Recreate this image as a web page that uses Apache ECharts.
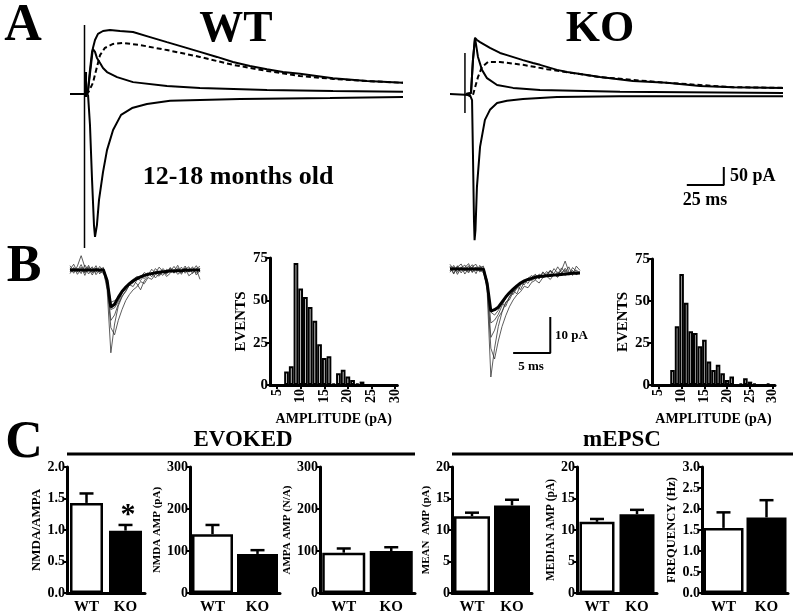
<!DOCTYPE html>
<html><head><meta charset="utf-8">
<script src="https://cdn.jsdelivr.net/npm/echarts@6/dist/echarts.min.js"></script>
<style>html,body{margin:0;padding:0;background:#fff}#c{width:800px;height:616px}</style>
</head><body><div id="c"></div>
<script>
const FONT = '"Liberation Serif","Times New Roman",serif';

// ---------- Panel A traces (time ms, current pA) ----------
const wtInward = [[0,0],[10.8,0],[12.2,-3],[13.5,-86],[14.9,-239],[16.2,-364],[16.9,-397],[17.6,-394],[18.2,-364],[19.6,-294],[22.3,-217],[25,-156],[29.1,-100],[34.5,-58],[41.9,-39],[52,-28],[67.6,-19],[114.9,-14],[175.7,-11],[225,-8]];
const wtOutward = [[10.8,0],[12.2,11],[14.2,81],[15.5,128],[16.9,150],[18.9,167],[22.3,175],[27,178],[33.8,175],[42.6,172],[54.1,158],[65.5,144],[76.4,131],[87.8,117],[99.3,103],[110.1,89],[121.6,78],[133.1,69],[143.9,61],[155.4,56],[177.7,44],[200.7,36],[225,31]];
const wtAmpaOut = [[10.8,0],[12.2,11],[13.5,67],[14.9,117],[15.5,125],[16.9,117],[18.2,100],[20.3,86],[22.3,72],[25,61],[31.8,47],[42.6,33],[65.5,22],[87.8,17],[133.1,11],[177.7,8],[225,6]];
const wtNmda = [[10.8,0],[12.2,3],[15.5,31],[18.2,75],[20.3,108],[23.6,128],[29.1,139],[35.8,142],[47.3,136],[65.5,122],[87.8,103],[110.1,81],[133.1,64],[155.4,50],[177.7,42],[200.7,36],[225,31]];
const wtArtifact = [[9.8,192],[9.8,-428]];
const wtArtifactThick = [[10.5,61],[10.5,-8]];

const koInward = [[0,0],[13.5,-3],[14.9,-17],[15.5,-164],[16.2,-350],[16.6,-406],[17.2,-378],[18.2,-258],[20.3,-147],[23.6,-72],[27,-44],[31.8,-25],[38.5,-19],[49.3,-14],[72.3,-8],[114.9,-6],[168.9,-6],[225,-6]];
const koOutward = [[10.8,0],[14.2,3],[15.5,94],[16.9,156],[18.2,150],[20.3,144],[27,128],[33.8,114],[38.5,108],[49.3,94],[56.1,86],[60.8,81],[72.3,67],[79.1,61],[101.4,47],[123.6,36],[146.6,31],[168.9,22],[191.2,19],[225,17]];
const koAmpaOut = [[10.8,0],[14.2,3],[15.5,94],[16.9,156],[18.9,103],[21.6,67],[25,44],[31.8,25],[42.6,17],[60.8,11],[114.9,6],[225,3]];
const koNmda = [[10.8,0],[13.5,-6],[15.5,-3],[18.9,47],[21.6,75],[25.7,89],[33.8,89],[49.3,81],[65.5,69],[83.1,58],[101.4,47],[146.6,31],[191.2,19],[225,17]];
const koArtifact = [[10.1,114],[10.1,-53]];
const scaleBarA = [[160,-253],[185,-253],[185,-203]];   // 25 ms, 50 pA

// ---------- Panel B mEPSC traces (ms, pA) ----------
const tB = [0,0.5,1,1.5,2,2.5,3,3.5,4,4.5,5,5.5,6,6.5,7,7.5,8,8.5,9,9.5,10,10.5,11,11.5,12,12.5,13,13.5,14,14.5,15,15.5,16,16.5,17,17.5];
const wtMini1 = [0.6,-0.9,1.1,4.0,0.8,-1.1,0.3,-0.7,1.0,-0.2,-5.5,-23,-15,-10,-7.5,-5.8,-4.2,-3.6,-2.4,-2.9,-1.5,-0.8,-1.9,-0.3,-1.4,0.4,-0.6,0.7,-0.9,0.3,-1.2,0.6,-0.3,0.9,-1.4,-0.1];
const wtMini2 = [-0.5,0.7,-1.2,0.2,-0.6,1.3,-0.8,0.5,-0.4,0.3,-4,-16,-18,-14,-11,-8.5,-6.8,-5.5,-4.7,-3.2,-3.8,-2.1,-2.6,-1.2,-1.7,-0.5,-1.0,0.3,-0.8,0.6,-0.4,1.1,-0.6,0.2,-0.9,0.5];
const wtMini3 = [1.2,-0.3,0.4,-1.0,1.4,-0.2,0.9,-1.3,0.1,0.7,-3.5,-14,-12.5,-9.5,-7.2,-6.0,-4.1,-4.6,-2.8,-1.6,-2.4,-0.9,-1.3,0.4,-0.7,-1.5,0.2,-0.4,1.0,-0.5,0.8,-0.9,0.4,-0.2,1.2,-0.6];
const wtMini4 = [-1.0,0.5,-0.2,1.5,-0.8,0.4,-1.4,0.6,-0.5,-0.9,-3,-11,-10.5,-8.8,-6.4,-5.2,-3.5,-2.9,-3.8,-5.5,-3.0,-1.7,-0.6,-2.2,-1.1,-0.3,-1.8,-0.9,0.2,-1.2,-0.4,0.5,-1.6,-0.8,0.3,-2.6];
const wtMini5 = [0.2,1.6,-0.6,0.8,-1.5,0.9,-0.4,1.2,-1.1,0.5,-2.5,-9,-8.5,-7.9,-5.9,-4.4,-3.9,-2.6,-1.8,-2.0,-0.7,-1.4,0.2,-0.9,0.8,-0.4,-1.2,0.5,-0.3,1.3,-0.8,0.1,0.9,-1.0,0.4,1.0];
const wtMiniAvg = [0,0,0,0,0,0,0,0,0,0,-3,-10.3,-9.5,-7.6,-6.0,-4.8,-3.8,-3.0,-2.4,-1.9,-1.5,-1.2,-1.0,-0.8,-0.6,-0.5,-0.4,-0.3,-0.3,-0.2,-0.2,-0.1,-0.1,0,0,0];

const koMini1 = [0.8,-1.2,0.5,1.4,-0.6,0.9,-1.0,0.3,-0.8,0.2,-6,-30,-22,-16,-12,-9.5,-7.8,-6.2,-5.5,-4.1,-3.6,-2.8,-3.3,-2.2,-1.7,-2.5,-1.3,-0.6,-1.9,-0.8,-1.4,0.2,-1.1,-0.5,-1.6,-0.7];
const koMini2 = [-0.9,0.6,-1.5,0.3,1.1,-0.7,0.5,-1.3,1.0,-0.4,-5,-22,-25,-20,-16,-13,-10.5,-8.6,-7.2,-6.3,-4.8,-5.2,-3.7,-3.1,-3.9,-2.4,-2.0,-2.9,-1.5,-2.3,-0.9,-1.8,-1.2,-0.4,-1.5,-1.0];
const koMini3 = [1.3,-0.2,0.7,-1.1,0.4,1.5,-0.8,0.6,-0.3,-1.0,-4.5,-19,-17,-13.5,-11.8,-9.2,-8.6,-6.4,-4.9,-5.7,-3.6,-2.5,-3.0,-1.6,-2.6,-0.8,-1.9,-0.5,-1.3,0.6,-1.0,-0.2,-1.7,0.4,-0.6,-1.3];
const koMini4 = [-0.4,1.0,-0.9,0.6,-1.4,0.2,1.2,-0.5,0.4,0.8,-3.5,-15,-14.2,-12.6,-10.2,-8.1,-6.5,-7.1,-5.2,-3.9,-4.4,-2.6,-1.8,-3.0,-1.4,-2.1,-0.7,-1.6,0.1,-1.2,-0.4,2.2,-0.8,-1.5,-0.3,-1.1];
const koMini5 = [0.5,-1.4,0.9,-0.3,0.2,-1.1,0.7,1.3,-0.6,-0.2,-3,-12,-12.8,-11.5,-9.6,-10.4,-7.8,-6.0,-6.9,-4.5,-3.2,-4.0,-2.2,-1.5,-2.8,-1.0,-1.9,-0.3,-1.4,-2.2,0.3,-0.9,0.6,-1.8,0.8,-0.4];
const koMiniAvg = [0,0,0,0,0,0,0,0,0,0,-4,-11.7,-11.3,-10.6,-9.2,-7.8,-6.6,-5.6,-4.7,-3.9,-3.3,-2.9,-2.6,-2.3,-2.1,-2.0,-1.9,-1.8,-1.7,-1.6,-1.5,-1.4,-1.3,-1.2,-1.15,-1.1];
const scaleBarB = [[8.5,-23.3],[13.5,-23.3],[13.5,-13.3]];  // 5 ms, 10 pA

// ---------- Panel B histograms ----------
const histBins = ['4','5','6','7','8','9','10','11','12','13','14','15','16','17','18','19','20','21','22','23','24','25','26','27','28','29','30'];
const wtEvents = [0,0,0,8,11,72,57,52,46,38,24,16,17,1,7,9,5,3,1,2,0,0,0,0,0,0,0];
const koEvents = [0,0,0,0,9,35,66,49,32,31,23,27,14,9,12,7,3,5,0,1,4,2,1,0,0,1,0];

// ---------- Panel C bar charts ----------
const groups = ['WT','KO'];
const ratioMean = [1.43, 0.99],  ratioSem = [0.15, 0.09];
const nmdaMean  = [140, 93],     nmdaSem  = [22, 9];
const ampaMean  = [96, 100],     ampaSem  = [10, 9];
const meanAmp   = [12.2, 13.9],  meanAmpSem = [0.55, 0.9];
const medianAmp = [11.3, 12.5],  medianAmpSem = [0.45, 0.7];
const freqMean  = [1.55, 1.80],  freqSem  = [0.37, 0.41];

// ================= build =================
const chart = echarts.init(document.getElementById('c'));
const grid = [], xAxis = [], yAxis = [], series = [];
const bold = {fontFamily: FONT, fontWeight: 'bold', color: '#000'};

function traceGrid(box, xr, yr){
  grid.push(box);
  const i = grid.length - 1;
  xAxis.push({gridIndex:i, type:'value', min:xr[0], max:xr[1], show:false});
  yAxis.push({gridIndex:i, type:'value', min:yr[0], max:yr[1], show:false});
  return i;
}
function line(i, data, opt){
  series.push(Object.assign({type:'line', xAxisIndex:i, yAxisIndex:i, data:data, symbol:'none', silent:true,
    lineStyle:{color:'#000', width:2}}, opt||{}));
}
function zipT(vals){ return tB.map((t,k)=>[t, vals[k]]); }

// A
const gA1 = traceGrid({left:70, top:22, width:333, height:230.4}, [0,225], [-440,200]);
const gA2 = traceGrid({left:450, top:22, width:333, height:230.4}, [0,225], [-440,200]);
line(gA1, wtInward); line(gA1, wtOutward); line(gA1, wtAmpaOut);
line(gA1, wtNmda, {lineStyle:{color:'#000', width:2, type:[5,3]}});
line(gA1, wtArtifact, {lineStyle:{color:'#000', width:1.5}});
line(gA1, wtArtifactThick, {lineStyle:{color:'#000', width:3}});
line(gA2, koInward); line(gA2, koOutward); line(gA2, koAmpaOut);
line(gA2, koNmda, {lineStyle:{color:'#000', width:2, type:[5,3]}});
line(gA2, koArtifact, {lineStyle:{color:'#000', width:1.5}});
line(gA2, scaleBarA, {lineStyle:{color:'#000', width:2}});

// B traces
const gB1 = traceGrid({left:70, top:255.6, width:130, height:104.4}, [0,17.5], [-25,4]);
const gB2 = traceGrid({left:450, top:254.6, width:130, height:129.6}, [0,17.5], [-32,4]);
[wtMini1, wtMini2, wtMini3, wtMini4, wtMini5].forEach(v => line(gB1, zipT(v), {lineStyle:{color:'#333', width:0.8}}));
line(gB1, zipT(wtMiniAvg), {lineStyle:{color:'#000', width:3}});
[koMini1, koMini2, koMini3, koMini4, koMini5].forEach(v => line(gB2, zipT(v), {lineStyle:{color:'#333', width:0.8}}));
line(gB2, zipT(koMiniAvg), {lineStyle:{color:'#000', width:3}});
line(gB2, scaleBarB, {lineStyle:{color:'#000', width:2}});

// Histograms
function histogram(box, counts, eventsGap){
  grid.push(box);
  const i = grid.length - 1;
  const every5 = (idx, val) => Number(val) % 5 === 0;
  xAxis.push({gridIndex:i, type:'category', data:histBins,
    axisLine:{lineStyle:{color:'#000', width:3}},
    axisTick:{show:true, interval:every5, alignWithLabel:true, length:4, lineStyle:{color:'#000', width:2}},
    axisLabel:Object.assign({interval:every5, rotate:90, fontSize:14, margin:4}, bold),
    name:'AMPLITUDE (pA)', nameLocation:'middle', nameGap:27,
    nameTextStyle:Object.assign({fontSize:14}, bold)});
  yAxis.push({gridIndex:i, type:'value', min:0, max:75, interval:25,
    axisLine:{show:true, lineStyle:{color:'#000', width:3}},
    axisTick:{show:true, length:4, lineStyle:{color:'#000', width:2}},
    splitLine:{show:false},
    axisLabel:Object.assign({fontSize:15, margin:2}, bold),
    name:'EVENTS', nameLocation:'middle', nameGap:eventsGap, nameRotate:90,
    nameTextStyle:Object.assign({fontSize:15}, bold)});
  series.push({type:'bar', xAxisIndex:i, yAxisIndex:i, data:counts, barCategoryGap:'0%', silent:true,
    itemStyle:{color:'#fff', borderColor:'#000', borderWidth:2}});
}
histogram({left:270, top:258, width:127.4, height:127}, wtEvents, 18);
histogram({left:652, top:259, width:123, height:126}, koEvents, 20);

// Panel C
function errRender(params, api){
  const x = api.value(0), v = api.value(1), s = api.value(2);
  const p0 = api.coord([x, v]), p1 = api.coord([x, v + s]);
  const w = 7;
  return {type:'group', children:[
    {type:'line', shape:{x1:p0[0], y1:p0[1], x2:p1[0], y2:p1[1]}, style:{stroke:'#000', lineWidth:2.5}},
    {type:'line', shape:{x1:p1[0]-w, y1:p1[1], x2:p1[0]+w, y2:p1[1]}, style:{stroke:'#000', lineWidth:2.5}}
  ]};
}
function barChart(box, means, sems, max, interval, decimals, title, nameGap, titleSize, barWidth){
  grid.push(box);
  const i = grid.length - 1;
  xAxis.push({gridIndex:i, type:'category', data:groups,
    axisLine:{lineStyle:{color:'#000', width:3}}, axisTick:{show:false},
    axisLabel:Object.assign({fontSize:15, margin:7}, bold)});
  yAxis.push({gridIndex:i, type:'value', min:0, max:max, interval:interval,
    axisLine:{show:true, lineStyle:{color:'#000', width:3}},
    axisTick:{show:true, length:4, lineStyle:{color:'#000', width:2}},
    splitLine:{show:false},
    axisLabel:Object.assign({fontSize:14, margin:2, formatter:v => v.toFixed(decimals)}, bold),
    name:title, nameLocation:'middle', nameGap:nameGap, nameRotate:90,
    nameTextStyle:Object.assign({fontSize:titleSize}, bold)});
  series.push({type:'bar', xAxisIndex:i, yAxisIndex:i, barWidth:barWidth, silent:true,
    data:[{value:means[0], itemStyle:{color:'#fff', borderColor:'#000', borderWidth:2.5}},
          {value:means[1], itemStyle:{color:'#000', borderColor:'#000', borderWidth:2.5}}]});
  series.push({type:'custom', xAxisIndex:i, yAxisIndex:i, renderItem:errRender, silent:true, z:5,
    encode:{x:0, y:1}, data:[[0, means[0], sems[0]], [1, means[1], sems[1]]]});
}
barChart({left:67, top:467, width:78, height:126}, ratioMean, ratioSem, 2, 0.5, 1, 'NMDA/AMPA', 24, 13, 33);
barChart({left:190, top:467, width:90, height:126}, nmdaMean, nmdaSem, 300, 100, 0, 'NMDA AMP (pA)', 19, 11, 41);
barChart({left:320, top:467, width:95, height:126}, ampaMean, ampaSem, 300, 100, 0, 'AMPA AMP (N/A)', 15, 11, 43);
barChart({left:452, top:467, width:80, height:126}, meanAmp, meanAmpSem, 20, 5, 0, 'MEAN  AMP (pA)', 12, 11, 36);
barChart({left:577, top:467, width:80, height:126}, medianAmp, medianAmpSem, 20, 5, 0, 'MEDIAN AMP (pA)', 12, 11.5, 35);
barChart({left:702, top:467, width:86, height:126}, freqMean, freqSem, 3, 0.5, 1, 'FREQUENCY (Hz)', 19, 12.5, 40);

function txt(text, x, y, size, align){
  return {type:'text', silent:true, style:{text:text, x:x, y:y, fill:'#000', align:align||'center', verticalAlign:'middle',
    font:'bold ' + size + 'px ' + FONT}};
}
const graphic = [
  txt('A', 23, 27, 52), txt('B', 24, 268, 52), txt('C', 24, 444, 52),
  txt('WT', 236, 30, 44), txt('KO', 600, 30, 44),
  txt('12-18 months old', 238, 177, 26),
  txt('50 pA', 730, 176, 18, 'left'), txt('25 ms', 705, 200, 18),
  txt('10 pA', 555, 336, 13, 'left'), txt('5 ms', 531, 367, 13),
  txt('EVOKED', 243, 440, 23), txt('mEPSC', 622, 440, 23),
  txt('*', 128, 515, 30),
  {type:'line', silent:true, shape:{x1:67, y1:454, x2:415, y2:454}, style:{stroke:'#000', lineWidth:3}},
  {type:'line', silent:true, shape:{x1:452, y1:454, x2:793, y2:454}, style:{stroke:'#000', lineWidth:3}}
];

chart.setOption({animation:false, backgroundColor:'#fff', grid:grid, xAxis:xAxis, yAxis:yAxis, series:series, graphic:graphic});
</script></body></html>
